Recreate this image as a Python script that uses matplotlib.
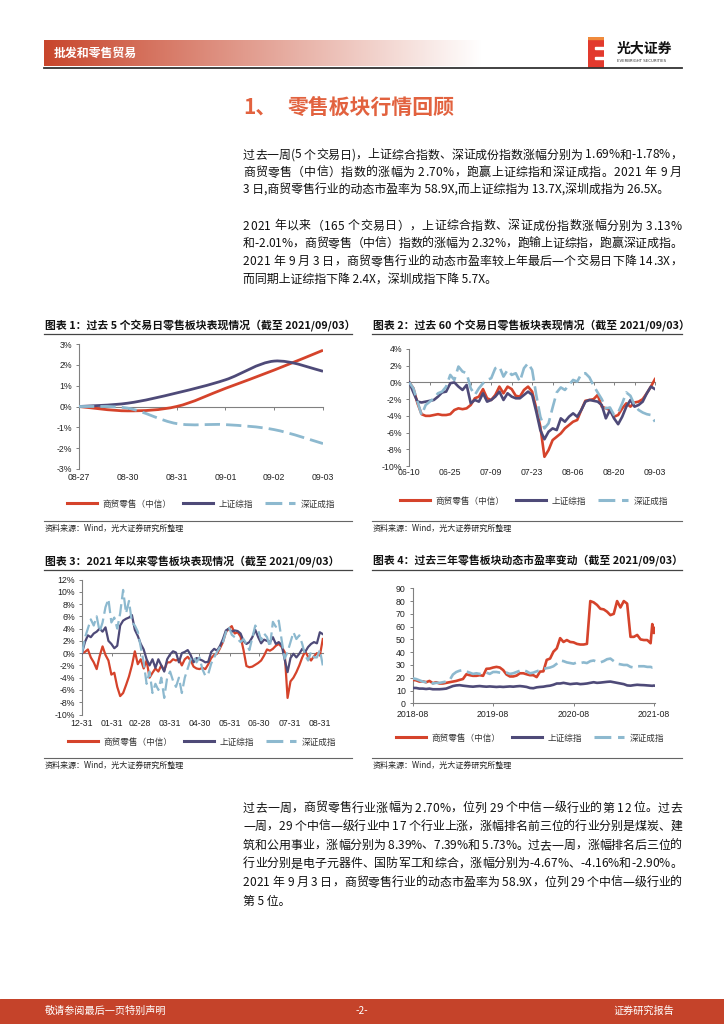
import numpy as np
import matplotlib
matplotlib.use('Agg')
import matplotlib.pyplot as plt
from matplotlib.path import Path
from matplotlib.patches import PathPatch, Rectangle
from matplotlib.lines import Line2D
from matplotlib.colors import to_rgb

plt.rcParams['font.family'] = ['Noto Sans CJK SC', 'DejaVu Sans']
plt.rcParams['axes.unicode_minus'] = False

W, H = 724, 1024
RED = '#D5432B'
PURPLE = '#4E4A78'
BLUE = '#8DB9CF'
AXC = '#808080'
TXT = '#222222'
DASH = (0, (5.5, 2.2))

names = ['商贸零售（中信）', '上证综指', '深证成指']

# chart 1: last 5 trading days, cumulative change %
days1 = ['08-27', '08-30', '08-31', '09-01', '09-02', '09-03']
ret1 = [0, -0.21, 0.0, 0.87, 1.75, 2.70]
sh1 = [0, 0.16, 0.65, 1.28, 2.18, 1.69]
sz1 = [0, -0.08, -0.82, -0.87, -1.11, -1.78]

# chart 2: last 60 trading days (index 0..60)
labels2 = ['06-10', '06-25', '07-09', '07-23', '08-06', '08-20', '09-03']
ret2 = [0, -0.7, -2.5, -3.8, -4.0, -4.0, -3.9, -3.8, -3.9, -3.9, -3.8,
        -3.3, -3.1, -3.2, -3.1, -2.7, -1.9, -1.7, -0.8, -1.9, -2.1,
        -1.5, -0.5, -1.3, -0.5, -0.8, -1.6, -1.7, -0.9, -0.5, -1.1,
        -3.1, -5.3, -8.9, -8.1, -6.9, -6.5, -6.1, -5.5, -5.1, -4.7,
        -4.5, -3.3, -2.2, -2.1, -2.0, -1.5, -2.9, -3.1, -3.3, -4.1,
        -3.9, -3.1, -2.5, -2.9, -2.4, -2.3, -2.0, -1.3, -0.5, 0.4]
sh2 = [0, -1.2, -2.3, -2.4, -2.3, -2.2, -2.1, -1.7, -1.2, -1.1, -0.1,
       0.0, -0.5, -0.9, -0.3, -2.5, -2.1, -2.3, -1.3, -2.3, -2.1,
       -1.7, -1.1, -2.1, -1.3, -1.7, -1.9, -1.9, -1.5, -1.1, -1.5,
       -3.5, -5.7, -6.8, -5.9, -5.5, -5.7, -4.3, -4.7, -4.1, -3.7,
       -4.1, -3.3, -2.3, -2.1, -2.2, -2.3, -2.7, -4.3, -3.3, -4.3,
       -5.0, -4.1, -2.9, -2.1, -2.9, -2.7, -2.3, -1.3, -0.5, -0.8]
sz2 = [0, -0.7, -2.3, -3.9, -2.7, -2.3, -1.9, -1.3, -1.1, -0.5, 0.9,
       0.3, 1.9, 1.3, 1.1, -0.7, -1.5, -0.7, -0.1, 0.3, 0.5,
       1.7, 1.9, 0.7, 1.5, 0.9, 1.1, 0.1, 1.7, 2.3, 1.5,
       -1.5, -4.1, -5.5, -4.9, -3.0, -1.2, -0.6, -0.9, -0.3, 0.3,
       0.1, 1.0, 1.1, 0.6, -0.4, -1.2, -2.0, -3.1, -3.0, -3.9,
       -3.6, -2.5, -1.2, -1.6, -2.7, -3.3, -3.6, -3.8, -3.9, -4.7]

# chart 3: 2021 year to date, sampled every 3 calendar days from 2020-12-31
days3 = np.arange(0, 247, 3)
month_days3 = [0, 31, 59, 90, 120, 151, 181, 212, 243]
labels3 = ['12-31', '01-31', '02-28', '03-31', '04-30', '05-31', '06-30', '07-31', '08-31']
ret3 = [0, 0.2, 0.6, -0.7, -1.5, -2.6, -0.5, 1.1, -0.3, -1.2,
        -3.5, -3.2, -5.5, -7.0, -6.5, -5.2, -3.8, -2.0, 0.3, -1.8,
        -1.0, -2.5, -1.2, -4.0, -3.2, -2.5, -3.0, -2.0, -2.8, -1.5,
        -1.5, -1.0, -1.2, -1.0, -2.0, -1.0, -0.6, -1.2, -2.2, -2.5,
        -2.6, -2.4, -2.6, -1.8, -0.8, -0.3, -0.1, 0.8, 1.8, 3.4,
        4.0, 4.4, 3.2, 3.4, 2.7, 0.5, -2.1, -2.3, -2.2, -1.9,
        -1.6, -1.2, -0.4, 0.6, 0.4, 0.7, 1.2, 1.5, 1.0, 0.2,
        -7.3, -4.6, -4.0, -3.1, -2.0, -0.7, 0.3, -0.6, -1.2, -0.5,
        0.0, -0.4, 2.3]
sh3 = [0, 1.8, 2.9, 2.6, 3.2, 3.5, 4.0, 3.5, 4.2, 2.0,
       1.5, 0.8, 1.2, 4.5, 5.3, 5.6, 5.8, 6.2, 3.8, 2.8,
       1.5, 0.6, -1.0, -2.0, -1.0, -2.4, -1.0, -2.0, -3.0, -1.0,
       -0.2, 0.3, 0.1, -1.5, 0.0, 0.2, 0.5, -0.3, -1.5, -0.8,
       -1.0, -1.2, -1.5, -1.4, 0.2, 0.7, 0.4, 1.2, 2.3, 3.7,
       4.0, 3.5, 3.7, 3.6, 3.2, 2.0, 1.5, 1.8, 2.6, 3.8,
       2.6, 1.6, 2.2, 2.0, 1.8, 2.6, 1.5, 1.8, 1.3, -1.0,
       -3.1, -0.8, -0.1, -0.7, -0.1, 0.7, 0.2, 1.0, 1.5, 1.8,
       1.6, 3.4, 3.1]
sz3 = [0, 2.5, 4.0, 5.5, 4.5, 6.0, 3.5, 5.0, 7.5, 8.8,
       5.0, 5.8, 4.0, 6.5, 10.3, 6.5, 8.5, 5.0, 4.5, 3.5,
       1.0, -1.5, -5.0, -3.0, -6.5, -5.0, -6.0, -4.0, -7.3, -4.0,
       -3.0, -4.5, -5.5, -4.0, -6.5, -4.0, -2.5, -1.0, -0.5, -1.5,
       -0.7, -2.6, -3.7, -3.4, -1.7, -0.7, 0.2, 1.0, 1.8, 3.4,
       4.3, 3.0, 2.6, 2.3, 1.8, 2.3, 1.5, 0.5, 2.5, 4.5,
       3.7, 2.1, 3.2, 2.6, 1.0, 5.1, 4.3, 5.3, 2.1, -0.9,
       0.2, 1.8, 3.4, 2.3, 2.9, 1.5, -0.4, -1.2, 0.2, -0.7,
       -0.7, 0.5, -2.0]

# chart 4: PE over three years, x in months since 2018-08
pe_x = np.r_[np.arange(0, 35.5, 0.5), 35.5, 35.75, 36.0, 36.2]
pe_labels = ['2018-08', '2019-08', '2020-08', '2021-08']
pe_ret = [18.3, 18.0, 17.0, 17.2, 16.5, 17.5, 15.7, 16.5, 15.5, 15.5,
          16.0, 16.5, 17.0, 17.5, 18.3, 19.0, 22.7, 22.0, 21.5, 21.5,
          22.0, 21.5, 27.0, 27.2, 28.0, 28.5, 28.0, 26.0, 22.5, 21.0,
          21.0, 21.7, 23.5, 23.5, 22.7, 22.0, 22.0, 20.5, 24.8, 25.0,
          34.0, 35.0, 40.4, 43.0, 51.0, 48.0, 49.5, 48.0, 47.7, 46.5,
          46.0, 46.0, 46.5, 80.0, 79.0, 77.0, 74.0, 73.5, 71.7, 69.0,
          70.0, 80.0, 75.0, 80.0, 78.0, 52.0, 52.0, 53.5, 50.0, 49.5,
          49.5, 47.0, 62.0, 55.0, 58.9]
pe_sh = [12.0, 12.0, 11.5, 11.5, 11.2, 11.5, 11.0, 11.0, 11.0, 11.2,
         11.5, 12.5, 13.5, 14.0, 14.2, 13.8, 13.5, 13.2, 13.0, 13.3,
         13.5, 13.2, 13.0, 13.2, 13.0, 12.8, 13.0, 12.8, 13.0, 13.2,
         13.0, 13.3, 13.5, 13.2, 12.8, 12.0, 11.8, 12.5, 12.8, 13.0,
         13.5, 13.8, 14.5, 15.5, 15.5, 16.0, 15.5, 15.0, 15.3, 15.5,
         15.0, 15.2, 15.5, 16.0, 16.5, 16.0, 16.2, 16.5, 16.8, 17.0,
         16.5, 16.0, 15.5, 15.0, 14.0, 13.8, 14.2, 14.5, 14.3, 14.2,
         14.0, 13.8, 13.7, 13.9, 13.7]
pe_sz = [19.5, 19.0, 18.0, 17.0, 16.5, 17.5, 15.5, 16.0, 16.0, 16.5,
         17.0, 18.0, 22.5, 24.5, 25.5, 26.0, 25.0, 24.0, 23.0, 23.5,
         23.0, 23.5, 24.0, 23.0, 24.5, 24.5, 24.0, 23.5, 24.0, 23.0,
         23.5, 24.5, 25.5, 26.0, 25.0, 23.5, 24.0, 25.0, 26.0, 27.0,
         27.5, 28.0, 29.0, 31.0, 33.5, 33.0, 32.0, 31.5, 31.0, 32.0,
         31.5, 32.0, 31.5, 33.0, 33.5, 32.5, 32.0, 33.0, 34.5, 35.0,
         33.0, 31.0, 30.5, 30.0, 30.0, 28.5, 28.0, 29.0, 29.0, 29.0,
         28.5, 28.5, 28.0, 28.2, 27.8]

para1 = ['过去一周(5 个交易日)，上证综合指数、深证成份指数涨幅分别为 1.69%和-1.78%，',
         '商贸零售（中信）指数的涨幅为 2.70%，跑赢上证综指和深证成指。2021 年 9 月',
         '3 日,商贸零售行业的动态市盈率为 58.9X,而上证综指为 13.7X,深圳成指为 26.5X。']
para2 = ['2021 年以来（165 个交易日），上证综合指数、深证成份指数涨幅分别为 3.13%',
         '和-2.01%，商贸零售（中信）指数的涨幅为 2.32%，跑输上证综指，跑赢深证成指。',
         '2021 年 9 月 3 日，商贸零售行业的动态市盈率较上年最后一个交易日下降 14.3X，',
         '而同期上证综指下降 2.4X，深圳成指下降 5.7X。']
para3 = ['过去一周，商贸零售行业涨幅为 2.70%，位列 29 个中信一级行业的第 12 位。过去',
         '一周，29 个中信一级行业中 17 个行业上涨，涨幅排名前三位的行业分别是煤炭、建',
         '筑和公用事业，涨幅分别为 8.39%、7.39%和 5.73%。过去一周，涨幅排名后三位的',
         '行业分别是电子元器件、国防军工和综合，涨幅分别为-4.67%、-4.16%和-2.90%。',
         '2021 年 9 月 3 日，商贸零售行业的动态市盈率为 58.9X，位列 29 个中信一级行业的',
         '第 5 位。']

fig = plt.figure(figsize=(7.24, 10.24), dpi=100)
renderer = fig.canvas.get_renderer()


def box(x0, y0, x1, y1):
    return [x0 / W, 1 - y1 / H, (x1 - x0) / W, (y1 - y0) / H]


def ftext(x, y, s, **kw):
    return fig.text(x / W, 1 - y / H, s, **kw)


def hline(x0, x1, y, color='#555555', lw=0.8):
    fig.add_artist(Line2D([x0 / W, x1 / W], [1 - y / H, 1 - y / H], color=color, lw=lw))


def text_w(s, fs):
    t = fig.text(0, 0, s, fontsize=fs)
    w = t.get_window_extent(renderer).width
    t.remove()
    return w


def paragraph(x, y0, step, lines, width=439, fs=8.6):
    # justified block: all lines but the last are spread to the full width
    bar = text_w('|', fs)
    for i, line in enumerate(lines):
        y = y0 + i * step
        if i == len(lines) - 1:
            ftext(x, y, line, fontsize=fs, va='center', color='#111111')
            continue
        extra = (width - text_w(line, fs)) / (len(line) - 1)
        for k, ch in enumerate(line):
            if ch == ' ':
                continue
            off = text_w(line[:k] + '|', fs) - bar if k else 0
            ftext(x + off + extra * k, y, ch, fontsize=fs, va='center', color='#111111')


def smooth_path(x, y, t=1 / 6):
    # excel style smoothed line as cubic bezier through the data points
    pts = np.column_stack([x, y]).astype(float)
    n = len(pts)
    verts = [pts[0]]
    codes = [Path.MOVETO]
    for i in range(n - 1):
        p0 = pts[i - 1] if i > 0 else pts[i]
        p1, p2 = pts[i], pts[i + 1]
        p3 = pts[i + 2] if i + 2 < n else pts[i + 1]
        verts += [p1 + (p2 - p0) * t, p2 - (p3 - p1) * t, p2]
        codes += [Path.CURVE4] * 3
    return Path(verts, codes)


def style(ax, yticks, ylabels):
    ax.spines[['top', 'right']].set_visible(False)
    for s in ['left', 'bottom']:
        ax.spines[s].set_color(AXC)
        ax.spines[s].set_linewidth(0.8)
    ax.set_yticks(yticks, ylabels, fontsize=6.3, family='Liberation Sans', color=TXT)
    ax.tick_params(axis='y', length=2.5, width=0.7, color=AXC, pad=2.5)
    ax.patch.set_alpha(0)


def zero_axis(ax, ticks, major, labels, pad):
    ax.spines['bottom'].set_position(('data', 0))
    ax.set_xticks(ticks)
    ax.tick_params(axis='x', labelbottom=False, length=2.5, width=0.7, color=AXC)
    sec = ax.secondary_xaxis('bottom')
    sec.set_xticks(major, labels, fontsize=6.3, family='Liberation Sans', color=TXT)
    sec.tick_params(length=0, pad=pad)
    sec.spines['bottom'].set_visible(False)


def legend(ax, cx, cy, lw=2.2):
    handles = [Line2D([], [], color=RED, lw=lw),
               Line2D([], [], color=PURPLE, lw=lw),
               Line2D([], [], color=BLUE, lw=lw, ls=DASH)]
    leg = ax.legend(handles, names, loc='center', bbox_to_anchor=(cx / W, 1 - cy / H),
                    bbox_transform=fig.transFigure, ncol=3, frameon=False, fontsize=6.2,
                    handlelength=3.5, handletextpad=0.6, columnspacing=1.4,
                    borderaxespad=0, borderpad=0)
    for t in leg.get_texts():
        t.set_color('#333333')


def frame(x0, x1, ytitle, yline, ysrc, title):
    ftext(x0 + 1, ytitle, title, fontsize=7.8, fontweight='bold', va='center', color='#111111')
    hline(x0, x1, yline, color='#444444', lw=0.9)
    hline(x0, x1, ysrc - 7, color='#666666', lw=0.8)
    ftext(x0 + 1, ysrc, '资料来源：Wind，光大证券研究所整理', fontsize=5.8, va='center', color='#222222')


# ---- header ----
hax = fig.add_axes(box(44, 40, 482, 66))
g = np.linspace(0, 1, 400)
base = np.array(to_rgb('#C8462C'))
img = base[None, None, :] * (1 - g)[None, :, None] + g[None, :, None]
hax.imshow(img, aspect='auto', extent=(0, 1, 0, 1))
hax.axis('off')
ftext(54, 53, '批发和零售贸易', fontsize=8.6, fontweight='bold', color='white', va='center')
hline(44, 682, 68, color='#333333', lw=1.3)

lax = fig.add_axes(box(588, 37, 604, 68))
lax.set_xlim(0, 1)
lax.set_ylim(0, 1)
lax.axis('off')
lax.add_patch(Rectangle((0, 0), 1, 1, color='#E23A2E'))
for yy in [0.3, 0.62]:
    lax.add_patch(Rectangle((0.45, yy), 0.6, 0.07, color='white'))
lax.add_patch(Rectangle((0, 0.93), 1, 0.07, color='#F08A3C'))
ftext(617, 49, '光大证券', fontsize=10, fontweight='bold', va='center', color='#111111')
ftext(617, 61, 'EVERBRIGHT SECURITIES', fontsize=2.8, va='center', color='#333333',
      family='DejaVu Sans')

# ---- title and text ----
ftext(243, 107, '1、', fontsize=15, fontweight='bold', color='#E2623F', va='center')
ftext(288, 107, '零售板块行情回顾', fontsize=15, fontweight='bold', color='#E2623F', va='center')

paragraph(243, 155, 17.3, para1)
paragraph(243, 226, 17.6, para2)
paragraph(243, 808, 18.6, para3)

# ---- chart 1 ----
frame(44, 352, 326, 334, 528, '图表 1：过去 5 个交易日零售板块表现情况（截至 2021/09/03）')
ax1 = fig.add_axes(box(79, 344, 323, 469))
x1 = np.arange(len(days1))
for vals, col, ls in [(ret1, RED, '-'), (sh1, PURPLE, '-'), (sz1, BLUE, DASH)]:
    ax1.add_patch(PathPatch(smooth_path(x1, vals), fill=False, ec=col, lw=2.0, ls=ls,
                            zorder=3, capstyle='butt'))
ax1.set_xlim(0, 5)
ax1.set_ylim(-3, 3)
yt1 = [-3, -2, -1, 0, 1, 2, 3]
style(ax1, yt1, [f'{v}%' for v in yt1])
zero_axis(ax1, x1, x1, days1, pad=3)
legend(ax1, 201, 504)

# ---- chart 2 ----
frame(372, 682, 326, 334, 528, '图表 2：过去 60 个交易日零售板块表现情况（截至 2021/09/03）')
ax2 = fig.add_axes(box(409.3, 349, 655, 466))
x2 = np.arange(len(ret2))
ax2.plot(x2, ret2, color=RED, lw=1.9, zorder=3)
ax2.plot(x2, sh2, color=PURPLE, lw=1.9, zorder=3)
ax2.plot(x2, sz2, color=BLUE, lw=1.9, ls=DASH, zorder=3)
ax2.set_xlim(0, 60)
ax2.set_ylim(-10, 4)
yt2 = list(range(-10, 5, 2))
style(ax2, yt2, [f'{v}%' for v in yt2])
zero_axis(ax2, np.arange(0, 61, 5), np.arange(0, 61, 10), labels2, pad=1.5)
legend(ax2, 534, 501)

# ---- chart 3 ----
frame(44, 352, 561, 570, 765, '图表 3：2021 年以来零售板块表现情况（截至 2021/09/03）')
ax3 = fig.add_axes(box(82, 579.5, 322.8, 714.5))
ax3.plot(days3, ret3, color=RED, lw=1.6, zorder=3)
ax3.plot(days3, sh3, color=PURPLE, lw=1.6, zorder=3)
ax3.plot(days3, sz3, color=BLUE, lw=1.6, ls=DASH, zorder=3)
ax3.set_xlim(0, 246)
ax3.set_ylim(-10, 12)
yt3 = list(range(-10, 13, 2))
style(ax3, yt3, [f'{v}%' for v in yt3])
zero_axis(ax3, month_days3, month_days3, labels3, pad=3)
legend(ax3, 202, 742)

# ---- chart 4 ----
frame(372, 682, 561, 570, 765, '图表 4：过去三年零售板块动态市盈率变动（截至 2021/09/03）')
ax4 = fig.add_axes(box(412.7, 588.3, 655.3, 703.3))
ax4.plot(pe_x, pe_ret, color=RED, lw=1.9, zorder=3)
ax4.plot(pe_x, pe_sh, color=PURPLE, lw=1.9, zorder=3)
ax4.plot(pe_x, pe_sz, color=BLUE, lw=1.9, ls=DASH, zorder=3)
ax4.set_xlim(0, 36.2)
ax4.set_ylim(0, 90)
yt4 = list(range(0, 91, 10))
style(ax4, yt4, [str(v) for v in yt4])
ax4.set_xticks([0, 12, 24, 36], pe_labels, fontsize=6.3, family='Liberation Sans', color=TXT)
ax4.tick_params(axis='x', length=2.5, width=0.7, color=AXC, pad=2.5)
legend(ax4, 530, 738)

# ---- footer ----
fax = fig.add_axes(box(0, 999, 724, 1024))
fax.axis('off')
fax.add_patch(Rectangle((0, 0), 1, 1, color='#C5432A', transform=fax.transAxes))
ftext(45, 1011, '敬请参阅最后一页特别声明', fontsize=7.3, color='white', va='center')
ftext(362, 1011, '-2-', fontsize=7.3, color='white', va='center', ha='center')
ftext(674, 1011, '证券研究报告', fontsize=7.3, color='white', va='center', ha='right')

fig.savefig('out.png', dpi=100)
